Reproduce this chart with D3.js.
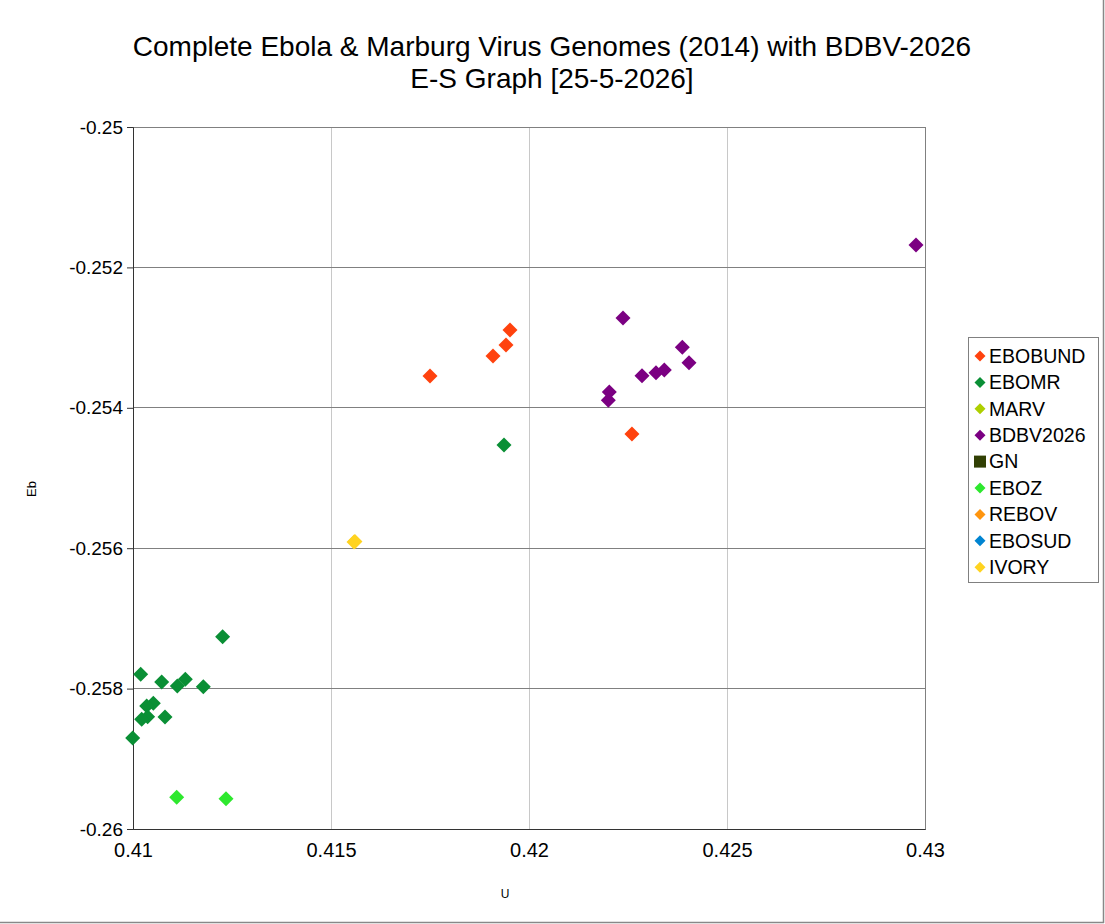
<!DOCTYPE html>
<html><head><meta charset="utf-8">
<script src="https://cdn.jsdelivr.net/npm/d3@7"></script>
<style>body{margin:0;background:#fff;}svg{display:block;font-family:"Liberation Sans",Arial,sans-serif;}</style>
</head><body>
<svg id="chart" width="1105" height="924"></svg>
<script>
const titleLines = ["Complete Ebola & Marburg Virus Genomes (2014) with BDBV-2026", "E-S Graph [25-5-2026]"];
const xLabel = "U";
const yLabel = "Eb";
const xTicks = [0.41, 0.415, 0.42, 0.425, 0.43];
const yTicks = [-0.25, -0.252, -0.254, -0.256, -0.258, -0.26];
const seriesNames = ["EBOBUND", "EBOMR", "MARV", "BDBV2026", "GN", "EBOZ", "REBOV", "EBOSUD", "IVORY"];
const seriesColors = ["#ff420e", "#0a8f35", "#aecf00", "#7b0082", "#314004", "#2ee82e", "#ff950e", "#0084d1", "#ffd320"];
const seriesShapes = ["diamond", "diamond", "diamond", "diamond", "square", "diamond", "diamond", "diamond", "diamond"];

const EBOBUND = [[0.4175, -0.253547], [0.419091, -0.253262], [0.419419, -0.253105], [0.41952, -0.252892], [0.4226, -0.254373]];
const EBOMR = [[0.419369, -0.25453], [0.412264, -0.25726], [0.410194, -0.257797], [0.410724, -0.257906],
  [0.411119, -0.257963], [0.411321, -0.257868], [0.411776, -0.257973], [0.410513, -0.25821],
  [0.410345, -0.258248], [0.41037, -0.2584], [0.410219, -0.258437], [0.410808, -0.258405], [0.409992, -0.258704]];
const MARV = [];
const BDBV2026 = [[0.429773, -0.251681], [0.422374, -0.252721], [0.423872, -0.253139], [0.42404, -0.253357],
  [0.422854, -0.253542], [0.423207, -0.253499], [0.423417, -0.253462], [0.422028, -0.253775], [0.422003, -0.253893]];
const GN = [];
const EBOZ = [[0.411103, -0.259549], [0.412348, -0.259568]];
const REBOV = [];
const EBOSUD = [];
const IVORY = [[0.415581, -0.255912], [0.415605, -0.255905]];
const seriesData = [EBOBUND, EBOMR, MARV, BDBV2026, GN, EBOZ, REBOV, EBOSUD, IVORY];

const svg = d3.select("#chart");
const W = 1105, H = 924;
const plot = {left: 133, right: 925, top: 127, bottom: 829};

// outer frame (right and bottom edges visible)
svg.append("line").attr("x1", 1103.5).attr("x2", 1103.5).attr("y1", 0).attr("y2", 923)
  .attr("stroke", "#888").attr("stroke-width", 1.5);
svg.append("line").attr("x1", 0).attr("x2", 1104).attr("y1", 922.5).attr("y2", 922.5)
  .attr("stroke", "#888").attr("stroke-width", 1.5);

const x = d3.scaleLinear().domain([0.41, 0.43]).range([plot.left, plot.right]);
const y = d3.scaleLinear().domain([-0.26, -0.25]).range([plot.bottom, plot.top]);

// vertical grid (light)
svg.append("g").selectAll("line").data(xTicks).join("line")
  .attr("x1", d => x(d)).attr("x2", d => x(d)).attr("y1", plot.top).attr("y2", plot.bottom)
  .attr("stroke", "#c8c8c8").attr("stroke-width", 1).attr("shape-rendering", "crispEdges");
// horizontal grid (dark)
svg.append("g").selectAll("line").data(yTicks).join("line")
  .attr("x1", plot.left).attr("x2", plot.right).attr("y1", d => y(d)).attr("y2", d => y(d))
  .attr("stroke", "#808080").attr("stroke-width", 1).attr("shape-rendering", "crispEdges");
// plot border
svg.append("rect").attr("x", plot.left).attr("y", plot.top)
  .attr("width", plot.right - plot.left).attr("height", plot.bottom - plot.top)
  .attr("fill", "none").attr("stroke", "#808080").attr("shape-rendering", "crispEdges");

const yAxis = d3.axisLeft(y).tickValues(yTicks).tickSize(6).tickPadding(4).tickFormat(d => String(+d.toFixed(3)));
const gy = svg.append("g").attr("transform", `translate(${plot.left},0)`).call(yAxis);
gy.select(".domain").attr("stroke", "#333");
gy.selectAll(".tick line").attr("stroke", "#333");
gy.selectAll(".tick text").attr("font-size", 19).attr("fill", "#000").attr("font-family", "Liberation Sans, Arial, sans-serif");

const xAxis = d3.axisBottom(x).tickValues(xTicks).tickSize(0).tickPadding(14).tickFormat(d => String(+d.toFixed(3)));
const gx = svg.append("g").attr("transform", `translate(0,${plot.bottom})`).call(xAxis);
gx.select(".domain").attr("stroke", "#333");
gx.selectAll(".tick text").attr("font-size", 20).attr("fill", "#000").attr("font-family", "Liberation Sans, Arial, sans-serif");

// axis titles
svg.append("text").attr("x", 505).attr("y", 898).attr("text-anchor", "middle")
  .attr("font-size", 12).text(xLabel);
svg.append("text").attr("transform", "translate(36,489) rotate(-90)").attr("text-anchor", "middle")
  .attr("font-size", 13).text(yLabel);

// title
svg.append("g").selectAll("text").data(titleLines).join("text")
  .attr("x", 552).attr("y", (d, i) => 56 + i * 32).attr("text-anchor", "middle")
  .attr("font-size", 28).attr("fill", "#000").text(d => d);

function shapePath(shape, r) {
  if (shape === "square") return `M${-r},${-r}H${r}V${r}H${-r}Z`;
  return `M0,${-r}L${r},0L0,${r}L${-r},0Z`;
}

// points
seriesData.forEach((data, si) => {
  svg.append("g").selectAll("path").data(data).join("path")
    .attr("transform", d => `translate(${x(d[0])},${y(d[1])})`)
    .attr("d", shapePath(seriesShapes[si], 7.5))
    .attr("fill", seriesColors[si]);
});

// legend
const lg = svg.append("g");
lg.append("rect").attr("x", 968.5).attr("y", 337.5).attr("width", 130).attr("height", 245)
  .attr("fill", "#fff").attr("stroke", "#808080");
const items = lg.selectAll("g.item").data(seriesNames).join("g").attr("class", "item")
  .attr("transform", (d, i) => `translate(0,${356 + i * 26.4})`);
items.append("path").attr("transform", "translate(980,0)")
  .attr("d", (d, i) => shapePath(seriesShapes[i], seriesShapes[i] === "square" ? 6 : 5.5))
  .attr("fill", (d, i) => seriesColors[i]);
items.append("text").attr("x", 989).attr("y", 0).attr("dy", "0.35em")
  .attr("font-size", 19.5).attr("fill", "#000").text(d => d);
</script>
</body></html>
